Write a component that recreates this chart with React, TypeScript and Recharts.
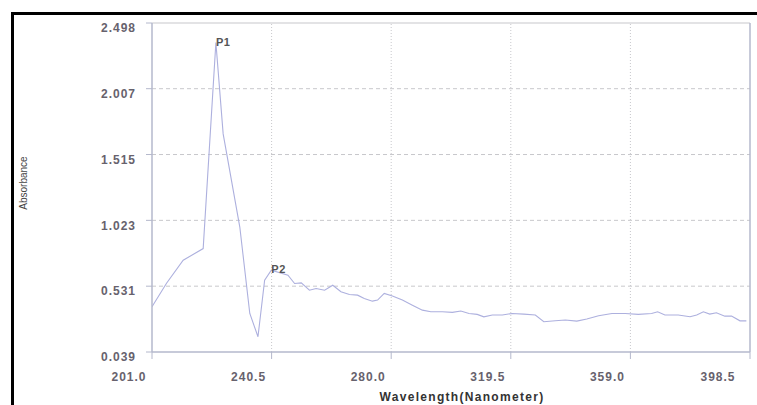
import React from 'react';
import { LineChart, Line, XAxis, YAxis, ReferenceLine, ReferenceDot } from 'recharts';

const wavelengths = [201, 205.8, 211.3, 217.9, 222.1, 224.5, 230, 233.3, 236, 238.2, 240.4, 245.9, 248.1, 250.3, 253, 255.2, 258, 260.7, 263.4, 266.2, 268.9, 271.1, 273.8, 275.5, 277.7, 280.4, 283.7, 287, 290.3, 293.1, 296.9, 300.2, 303, 305.7, 308.4, 310.6, 313.4, 316.7, 319.9, 323.8, 327.6, 330.4, 334.2, 337.5, 341.3, 344.6, 348.5, 352.9, 357.3, 361.6, 366, 368, 370.4, 374.8, 378.7, 380.9, 383.1, 385.2, 387.4, 390.2, 392.4, 395.2, 397.3];
const absorbance = [0.377, 0.553, 0.725, 0.812, 2.352, 1.669, 0.973, 0.327, 0.153, 0.576, 0.650, 0.613, 0.551, 0.556, 0.501, 0.514, 0.501, 0.538, 0.489, 0.469, 0.464, 0.439, 0.419, 0.427, 0.477, 0.457, 0.427, 0.389, 0.352, 0.340, 0.340, 0.335, 0.345, 0.327, 0.320, 0.302, 0.315, 0.315, 0.327, 0.322, 0.315, 0.265, 0.272, 0.278, 0.270, 0.285, 0.310, 0.327, 0.327, 0.320, 0.327, 0.340, 0.315, 0.315, 0.302, 0.315, 0.340, 0.322, 0.332, 0.307, 0.307, 0.272, 0.272];

const xTicks = [201.0, 240.5, 280.0, 319.5, 359.0, 398.5];
const yTicks = [0.039, 0.531, 1.023, 1.515, 2.007, 2.498];

const peakNames = ['P1', 'P2'];
const peakWavelengths = [222.1, 240.4];
const peakValues = [2.352, 0.650];

const data = wavelengths.map((wl, i) => ({ wl, abs: absorbance[i] }));

const FONT = '"Liberation Sans", Arial, sans-serif';
const TICK_COLOR = '#67626d';
const AXIS_COLOR = '#b4b8cc';
const GRID_COLOR = '#c8c8cc';
const LINE_COLOR = '#adb0de';

export default function App() {
  return (
    <div style={{ position: 'absolute', left: 0, top: 0, width: 757, height: 405, overflow: 'hidden', background: '#fff' }}>
      <div style={{ position: 'absolute', left: 11, top: 12, width: 800, height: 450, borderLeft: '3px solid #000', borderTop: '3px solid #000' }} />
      <div style={{ position: 'absolute', left: 0, top: 0 }}>
        <LineChart width={757} height={405} data={data} margin={{ top: 23, right: 7, bottom: 0, left: 0 }}>
          <XAxis
            type="number"
            dataKey="wl"
            domain={[201, 398.5]}
            ticks={xTicks}
            allowDataOverflow
            height={53}
            tickFormatter={(v: number) => v.toFixed(1)}
            tickSize={7}
            tickMargin={13}
            stroke={AXIS_COLOR}
            axisLine={{ stroke: AXIS_COLOR, strokeWidth: 1.5 }}
            tickLine={{ stroke: AXIS_COLOR }}
            tick={{ fill: TICK_COLOR, fontSize: 12, fontWeight: 'bold', fontFamily: FONT, letterSpacing: 1, dx: -23 }}
            label={{
              content: (p: any) => (
                <text
                  x={p.viewBox.x + p.viewBox.width / 2 + 11}
                  y={p.viewBox.y + 49}
                  textAnchor="middle"
                  fill="#333"
                  fontSize={12}
                  fontWeight="bold"
                  fontFamily={FONT}
                  letterSpacing={1.3}
                >
                  Wavelength(Nanometer)
                </text>
              ),
            }}
          />
          <YAxis
            type="number"
            dataKey="abs"
            domain={[0.039, 2.498]}
            ticks={yTicks}
            allowDataOverflow
            width={152}
            tickFormatter={(v: number) => v.toFixed(3)}
            tickSize={6}
            tickMargin={10}
            stroke={AXIS_COLOR}
            axisLine={{ stroke: AXIS_COLOR, strokeWidth: 1.5 }}
            tickLine={{ stroke: AXIS_COLOR }}
            tick={{ fill: TICK_COLOR, fontSize: 12, fontWeight: 'bold', fontFamily: FONT, letterSpacing: 1, dy: 5 }}
            label={{
              content: () => (
                <text
                  x={27}
                  y={183}
                  transform="rotate(-90 27 183)"
                  textAnchor="middle"
                  fill="#444"
                  fontSize={10}
                  fontFamily={FONT}
                >
                  Absorbance
                </text>
              ),
            }}
          />
          {yTicks.slice(1, -1).map((t) => (
            <ReferenceLine key={'h' + t} y={t} stroke={GRID_COLOR} strokeDasharray="4 3" />
          ))}
          <ReferenceLine y={yTicks[yTicks.length - 1]} stroke={GRID_COLOR} strokeWidth={1.2} />
          {xTicks.slice(1, -1).map((t) => (
            <ReferenceLine key={'v' + t} x={t} stroke={GRID_COLOR} strokeDasharray="1 2" />
          ))}
          <ReferenceLine x={xTicks[xTicks.length - 1]} stroke={AXIS_COLOR} strokeWidth={1.5} />
          <Line
            type="linear"
            dataKey="abs"
            stroke={LINE_COLOR}
            strokeWidth={1.1}
            dot={false}
            isAnimationActive={false}
          />
          {peakNames.map((name, i) => (
            <ReferenceDot
              key={name}
              x={peakWavelengths[i]}
              y={peakValues[i]}
              r={0}
              fill="none"
              stroke="none"
              label={{
                content: (p: any) => (
                  <text
                    x={p.viewBox.x}
                    y={p.viewBox.y + 3}
                    fill="#555"
                    fontSize={11}
                    fontWeight="bold"
                    fontFamily={FONT}
                    letterSpacing={0.5}
                  >
                    {name}
                  </text>
                ),
              }}
            />
          ))}
        </LineChart>
      </div>
    </div>
  );
}
